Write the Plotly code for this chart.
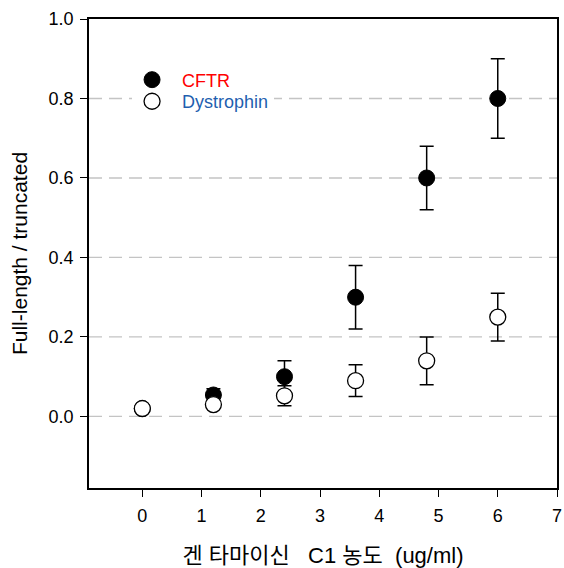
import plotly.graph_objects as go

# Concentration of gentamicin C1 (ug/ml)
conc_cftr = [0, 1.2, 2.4, 3.6, 4.8, 6.0]
cftr = [0.02, 0.054, 0.10, 0.30, 0.60, 0.80]
cftr_err = [0.0, 0.016, 0.04, 0.08, 0.08, 0.10]

conc_dys = [0, 1.2, 2.4, 3.6, 4.8, 6.0]
dystrophin = [0.02, 0.03, 0.052, 0.09, 0.14, 0.25]
dystrophin_err = [0.0, 0.0, 0.025, 0.04, 0.06, 0.06]

y_ticks = [0.0, 0.2, 0.4, 0.6, 0.8, 1.0]
x_ticks = [0, 1, 2, 3, 4, 5, 6, 7]

FONT = "Liberation Sans, Arial, Noto Sans CJK KR, sans-serif"
NB = "\u00a0\u00a0"

fig = go.Figure()

fig.add_trace(go.Scatter(
    x=conc_cftr, y=cftr, mode="markers",
    name=NB + "<span style='color:#FF0000'>CFTR</span>",
    legend="legend2",
    marker=dict(size=16, color="black", line=dict(color="black", width=1)),
    error_y=dict(type="data", array=cftr_err, visible=True,
                 color="black", thickness=1.5, width=7),
))

fig.add_trace(go.Scatter(
    x=conc_dys, y=dystrophin, mode="markers",
    name=NB + "<span style='color:#1F5FAF'>Dystrophin</span>",
    legend="legend",
    marker=dict(size=16, color="white", line=dict(color="black", width=1.3)),
    error_y=dict(type="data", array=dystrophin_err, visible=True,
                 color="black", thickness=1.5, width=7),
))

# dashed reference lines at each y tick below the top
for yv in y_ticks[:-1]:
    fig.add_shape(type="line", xref="paper", x0=0, x1=1, yref="y", y0=yv, y1=yv,
                  line=dict(color="#C4C4C4", width=1.3, dash="13px,7px"),
                  layer="below")

legend_style = dict(xanchor="left", yanchor="middle", borderwidth=0,
                    font=dict(family=FONT, size=18), itemsizing="trace")

fig.update_layout(
    width=564, height=568,
    margin=dict(l=89, r=7, t=19, b=80),
    paper_bgcolor="white", plot_bgcolor="white",
    font=dict(family=FONT, size=18, color="black"),
    showlegend=True,
    # Dystrophin entry: opaque box hides the gridline behind it
    legend=dict(x=0.092, y=0.824, bgcolor="white", **legend_style),
    # CFTR entry drawn above it with a clear background
    legend2=dict(x=0.092, y=0.870, bgcolor="rgba(0,0,0,0)", **legend_style),
    xaxis=dict(range=[-0.9, 7], tickvals=x_ticks, ticks="outside", ticklen=7,
               tickwidth=1.2, tickcolor="black", showgrid=False, zeroline=False,
               showline=True, linecolor="black", linewidth=1.5, mirror=True,
               tickfont=dict(size=18), ticklabelstandoff=4, automargin=False,
               title=dict(text="겐 타마이신   C1 농도  (ug/ml)",
                          font=dict(size=22), standoff=22)),
    yaxis=dict(range=[-0.18, 1.0], tickvals=y_ticks, tickformat=".1f",
               ticks="outside", ticklen=7, tickwidth=1.2, tickcolor="black",
               showgrid=False, zeroline=False,
               showline=True, linecolor="black", linewidth=1.5, mirror=True,
               tickfont=dict(size=18), ticklabelstandoff=3, automargin=False,
               title=dict(text="Full-length / truncated",
                          font=dict(size=21), standoff=15)),
)

fig.write_html("out.html")
